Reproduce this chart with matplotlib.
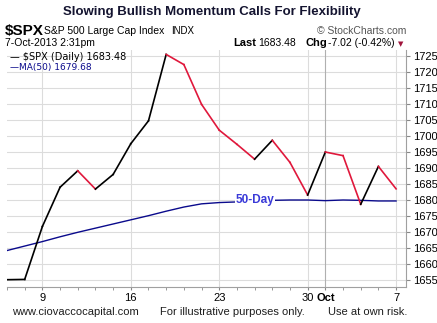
import matplotlib.pyplot as plt

plt.rcParams['font.family'] = ['Liberation Sans', 'DejaVu Sans']

# --- S&P 500 daily closes, 5-Sep-2013 .. 7-Oct-2013 ---
dates = ['Sep 5', 'Sep 6', 'Sep 9', 'Sep 10', 'Sep 11', 'Sep 12', 'Sep 13',
         'Sep 16', 'Sep 17', 'Sep 18', 'Sep 19', 'Sep 20', 'Sep 23', 'Sep 24',
         'Sep 25', 'Sep 26', 'Sep 27', 'Sep 30', 'Oct 1', 'Oct 2', 'Oct 3',
         'Oct 4', 'Oct 7']
close = [1655.08, 1655.17, 1671.71, 1683.99, 1689.13, 1683.42, 1687.99,
         1697.60, 1704.76, 1725.52, 1722.34, 1709.91, 1701.84, 1697.42,
         1692.77, 1698.67, 1691.75, 1681.55, 1695.00, 1693.87, 1678.66,
         1690.50, 1683.48]
ma50 = [1664.2, 1665.6, 1667.0, 1668.5, 1669.9, 1671.2, 1672.5,
        1673.8, 1675.1, 1676.5, 1677.8, 1678.8, 1679.2, 1679.4,
        1679.6, 1679.9, 1680.0, 1680.0, 1679.8, 1680.0, 1679.9,
        1679.7, 1679.7]

tick_pos = [2, 7, 12, 17, 18, 22]
tick_labels = ['9', '16', '23', '30', 'Oct', '7']
y_ticks = list(range(1655, 1730, 5))

fig = plt.figure(figsize=(4.37, 3.23), dpi=100)
ax = fig.add_axes([7 / 437, 1 - 287 / 323, 399 / 437, 237 / 323])

x = list(range(len(close)))

# grid
for yt in y_ticks:
    ax.axhline(yt, color='#dcdcdc', lw=0.8, zorder=0)
for p in tick_pos:
    ax.axvline(p, color='#b0b0b0' if p == 18 else '#dcdcdc', lw=0.8, zorder=0)

# price line: black when up, red when down
for i in range(1, len(close)):
    col = 'black' if close[i] >= close[i - 1] else '#e0183c'
    ax.plot(x[i - 1:i + 1], close[i - 1:i + 1], color=col, lw=1.2, zorder=3)

# 50-day moving average
ax.plot(x, ma50, color='#0a0a8c', lw=1.0, zorder=2)
ax.text(14.0, 1680, '50-Day', color='#3a3ad8', fontsize=8.5, fontweight='bold',
        ha='center', va='center', zorder=4,
        bbox=dict(facecolor='white', edgecolor='none', pad=0.5))

ax.set_xlim(0.55, 22.56)
ax.set_ylim(1652.8, 1726.9)

ax.yaxis.tick_right()
ax.set_yticks(y_ticks)
ax.tick_params(axis='y', labelsize=8, length=3, color='#888888', pad=2)
ax.set_xticks(tick_pos)
ax.set_xticklabels(tick_labels)
ax.set_xticks(x, minor=True)
ax.tick_params(axis='x', which='both', length=2.5, color='#888888', labelsize=8, pad=2)
ax.get_xticklabels()[4].set_fontweight('bold')

for side in ['top', 'left']:
    ax.spines[side].set_visible(False)
for side in ['bottom', 'right']:
    ax.spines[side].set_color('#a0a0a0')

# legend inside plot
ax.text(0.008, 0.972, '\u2014 $SPX (Daily) 1683.48', transform=ax.transAxes,
        fontsize=7, family='DejaVu Sans', color='black', va='center')
ax.text(0.008, 0.925, '\u2014MA(50) 1679.68', transform=ax.transAxes,
        fontsize=6.5, family='DejaVu Sans', color='#0a0a8c', va='center')

# header
fig.text(0.485, 1 - 12 / 323, 'Slowing Bullish Momentum Calls For Flexibility',
         ha='center', va='center', fontsize=9.5, fontweight='bold', color='#141430')
fig.text(5 / 437, 1 - 31 / 323, '$SPX', fontsize=11, fontweight='bold', va='center')
fig.text(44 / 437, 1 - 31 / 323, 'S&P 500 Large Cap Index', fontsize=7.5, va='center')
fig.text(171 / 437, 1 - 31 / 323, 'INDX', fontsize=7, va='center')
fig.text(406 / 437, 1 - 31 / 323, '\u00a9 StockCharts.com', fontsize=7.5,
         va='center', ha='right', color='#555555')
fig.text(5 / 437, 1 - 43 / 323, '7-Oct-2013 2:31pm', fontsize=7.5, va='center')
fig.text(233 / 437, 1 - 43 / 323, 'Last', fontsize=8, fontweight='bold', va='center')
fig.text(258 / 437, 1 - 43 / 323, '1683.48', fontsize=7.5, va='center')
fig.text(305 / 437, 1 - 43 / 323, 'Chg', fontsize=8, fontweight='bold', va='center')
fig.text(328 / 437, 1 - 43 / 323, '-7.02 (-0.42%)', fontsize=7.5, va='center')
fig.text(401 / 437, 1 - 44 / 323, '\u25bc', fontsize=5, va='center', ha='center',
         color='#a0143c', family='DejaVu Sans')

# footer
fig.text(12 / 437, 1 - 312 / 323, 'www.ciovaccocapital.com', fontsize=8, va='center',
         color='#1e1e1e')
fig.text(160 / 437, 1 - 312 / 323, 'For illustrative purposes only.', fontsize=8,
         va='center', color='#1e1e1e')
fig.text(407 / 437, 1 - 312 / 323, 'Use at own risk.', fontsize=8, va='center',
         ha='right', color='#1e1e1e')

fig.savefig('out.png', dpi=100)
